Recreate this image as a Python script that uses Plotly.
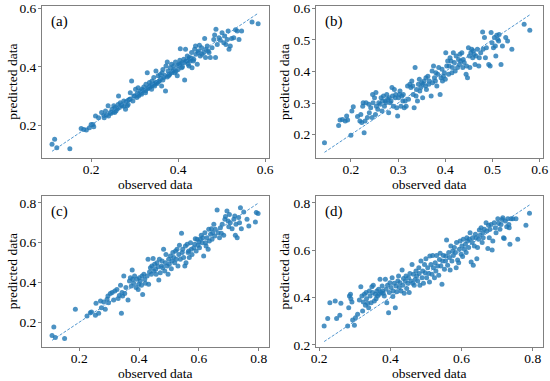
import plotly.graph_objects as go

# ---- data: (observed, predicted) ----
pts_a = [(0.110,0.134),(0.116,0.151),(0.121,0.122),(0.151,0.119),(0.177,0.188),(0.183,0.185),(0.189,0.183),
(0.196,0.191),(0.204,0.202),(0.206,0.194),(0.200,0.202),(0.210,0.231),(0.217,0.225),(0.224,0.243),(0.229,0.233),
(0.233,0.248),(0.239,0.266),(0.240,0.231),(0.244,0.243),(0.248,0.254),(0.252,0.266),(0.254,0.243),(0.257,0.248),
(0.262,0.271),(0.263,0.300),(0.267,0.277),(0.271,0.266),(0.275,0.283),(0.279,0.254),(0.283,0.266),(0.285,0.271),
(0.288,0.288),(0.290,0.311),(0.293,0.351),(0.296,0.283),(0.298,0.300),(0.302,0.323),(0.306,0.309),(0.308,0.328),
(0.309,0.300),(0.313,0.317),(0.316,0.306),(0.317,0.323),(0.321,0.331),(0.325,0.311),(0.326,0.340),(0.329,0.380),
(0.331,0.328),(0.334,0.346),(0.336,0.336),(0.339,0.323),(0.340,0.351),(0.344,0.363),(0.346,0.334),(0.348,0.346),
(0.349,0.386),(0.352,0.343),(0.354,0.369),(0.357,0.351),(0.359,0.374),(0.362,0.334),(0.363,0.380),(0.365,0.391),
(0.367,0.363),(0.371,0.317),(0.372,0.403),(0.375,0.417),(0.377,0.386),(0.378,0.369),(0.380,0.374),(0.382,0.397),
(0.385,0.409),(0.388,0.386),(0.390,0.403),(0.392,0.380),(0.394,0.417),(0.398,0.369),(0.400,0.391),(0.402,0.409),
(0.404,0.423),(0.405,0.462),(0.408,0.397),(0.409,0.414),(0.413,0.426),(0.415,0.355),(0.417,0.460),(0.418,0.420),
(0.421,0.437),(0.423,0.409),(0.425,0.403),(0.426,0.432),(0.428,0.420),(0.431,0.449),(0.432,0.397),(0.436,0.426),
(0.438,0.460),(0.440,0.472),(0.441,0.443),(0.444,0.409),(0.446,0.449),(0.447,0.454),(0.449,0.474),(0.451,0.437),
(0.454,0.466),(0.455,0.443),(0.459,0.449),(0.461,0.497),(0.463,0.432),(0.464,0.460),(0.467,0.472),(0.469,0.454),
(0.471,0.449),(0.474,0.432),(0.478,0.466),(0.482,0.494),(0.484,0.509),(0.486,0.432),(0.487,0.529),(0.490,0.477),
(0.494,0.500),(0.497,0.491),(0.501,0.517),(0.505,0.483),(0.507,0.506),(0.510,0.477),(0.513,0.494),(0.515,0.523),
(0.517,0.460),(0.520,0.472),(0.523,0.497),(0.528,0.500),(0.532,0.527),(0.536,0.523),(0.540,0.494),(0.546,0.523),
(0.570,0.554),(0.584,0.548),
(0.300,0.300),(0.305,0.295),(0.310,0.305),(0.315,0.310),(0.320,0.320),(0.325,0.318),(0.330,0.325),(0.335,0.330),
(0.340,0.335),(0.345,0.340),(0.350,0.345),(0.355,0.350),(0.360,0.360),(0.365,0.355),(0.370,0.370),(0.375,0.365),
(0.380,0.375),(0.385,0.380),(0.390,0.390),(0.395,0.385),(0.400,0.405),(0.405,0.410),(0.410,0.400),(0.415,0.415),
(0.420,0.420),(0.425,0.425),(0.430,0.430),(0.435,0.420),(0.260,0.255),(0.265,0.260),(0.270,0.270),(0.275,0.265),
(0.280,0.280),(0.285,0.285),(0.290,0.290),(0.245,0.240),(0.250,0.245),(0.235,0.235),(0.230,0.225),(0.255,0.260)]

pts_b = [(0.144,0.174),(0.174,0.229),(0.177,0.246),(0.182,0.248),(0.188,0.243),(0.191,0.259),(0.193,0.246),
(0.200,0.198),(0.202,0.275),(0.205,0.288),(0.214,0.257),(0.219,0.243),(0.221,0.264),(0.223,0.238),(0.225,0.290),
(0.226,0.301),(0.228,0.206),(0.230,0.243),(0.232,0.301),(0.235,0.254),(0.238,0.296),(0.239,0.269),(0.242,0.285),
(0.245,0.254),(0.246,0.327),(0.247,0.301),(0.250,0.317),(0.252,0.264),(0.253,0.333),(0.254,0.290),(0.257,0.280),
(0.259,0.301),(0.262,0.296),(0.264,0.317),(0.266,0.275),(0.267,0.306),(0.269,0.322),(0.271,0.290),(0.273,0.306),
(0.274,0.301),(0.276,0.327),(0.278,0.312),(0.280,0.269),(0.281,0.317),(0.283,0.301),(0.285,0.306),(0.287,0.349),
(0.288,0.322),(0.290,0.290),(0.292,0.343),(0.294,0.317),(0.295,0.327),(0.297,0.285),(0.299,0.259),(0.301,0.317),
(0.303,0.327),(0.304,0.338),(0.306,0.290),(0.308,0.322),(0.310,0.306),(0.311,0.327),(0.313,0.285),(0.315,0.306),
(0.317,0.290),(0.320,0.354),(0.322,0.312),(0.325,0.359),(0.327,0.349),(0.329,0.370),(0.331,0.354),(0.332,0.327),
(0.334,0.285),(0.336,0.412),(0.338,0.322),(0.339,0.343),(0.341,0.306),(0.343,0.359),(0.345,0.375),(0.346,0.338),
(0.348,0.349),(0.350,0.364),(0.352,0.317),(0.353,0.359),(0.355,0.370),(0.358,0.354),(0.359,0.380),(0.360,0.343),
(0.363,0.385),(0.365,0.359),(0.366,0.370),(0.370,0.322),(0.372,0.401),(0.373,0.364),(0.375,0.417),(0.377,0.380),
(0.379,0.370),(0.380,0.396),(0.382,0.354),(0.384,0.391),(0.386,0.412),(0.389,0.327),(0.391,0.380),(0.393,0.407),
(0.394,0.370),(0.396,0.385),(0.398,0.396),(0.400,0.375),(0.401,0.459),(0.403,0.417),(0.405,0.433),(0.407,0.391),
(0.408,0.417),(0.410,0.443),(0.412,0.433),(0.414,0.396),(0.415,0.412),(0.417,0.459),(0.419,0.428),(0.421,0.401),
(0.423,0.449),(0.426,0.412),(0.428,0.438),(0.430,0.422),(0.431,0.454),(0.433,0.433),(0.435,0.459),(0.437,0.412),
(0.438,0.438),(0.440,0.428),(0.444,0.391),(0.445,0.417),(0.447,0.380),(0.449,0.475),(0.451,0.449),(0.452,0.412),
(0.454,0.459),(0.456,0.470),(0.458,0.443),(0.459,0.465),(0.461,0.454),(0.463,0.422),(0.465,0.449),(0.468,0.470),
(0.471,0.417),(0.472,0.443),(0.475,0.459),(0.479,0.525),(0.480,0.470),(0.483,0.507),(0.485,0.443),(0.487,0.475),
(0.492,0.422),(0.495,0.417),(0.497,0.523),(0.499,0.491),(0.502,0.475),(0.504,0.507),(0.506,0.480),(0.507,0.449),
(0.509,0.514),(0.511,0.502),(0.513,0.496),(0.514,0.517),(0.518,0.422),(0.521,0.480),(0.528,0.507),(0.532,0.496),
(0.541,0.470),(0.567,0.549),(0.579,0.530)]

pts_c = [(0.109,0.134),(0.115,0.176),(0.120,0.123),(0.151,0.118),(0.187,0.265),(0.226,0.231),(0.237,0.248),
(0.241,0.252),(0.254,0.235),(0.256,0.295),(0.265,0.245),(0.271,0.307),(0.274,0.273),(0.282,0.302),(0.287,0.265),
(0.293,0.315),(0.296,0.332),(0.298,0.298),(0.304,0.345),(0.310,0.349),(0.315,0.312),(0.319,0.357),(0.326,0.365),
(0.330,0.319),(0.334,0.335),(0.338,0.386),(0.341,0.245),(0.343,0.349),(0.345,0.332),(0.349,0.432),(0.352,0.345),
(0.356,0.374),(0.363,0.312),(0.368,0.407),(0.371,0.424),(0.374,0.382),(0.377,0.463),(0.379,0.416),(0.382,0.396),
(0.385,0.432),(0.390,0.374),(0.393,0.416),(0.397,0.365),(0.399,0.391),(0.401,0.424),(0.404,0.407),(0.408,0.386),
(0.410,0.432),(0.412,0.340),(0.416,0.441),(0.419,0.416),(0.421,0.396),(0.427,0.432),(0.430,0.516),(0.432,0.391),
(0.435,0.453),(0.438,0.474),(0.441,0.441),(0.443,0.483),(0.447,0.520),(0.449,0.458),(0.452,0.491),(0.455,0.466),
(0.457,0.441),(0.460,0.499),(0.464,0.479),(0.466,0.412),(0.468,0.516),(0.471,0.449),(0.475,0.483),(0.477,0.508),
(0.479,0.474),(0.482,0.567),(0.486,0.458),(0.488,0.499),(0.490,0.541),(0.494,0.483),(0.497,0.441),(0.499,0.516),
(0.501,0.491),(0.505,0.533),(0.508,0.469),(0.510,0.508),(0.513,0.550),(0.516,0.525),(0.519,0.499),(0.522,0.558),
(0.524,0.516),(0.527,0.567),(0.530,0.483),(0.533,0.541),(0.535,0.587),(0.538,0.516),(0.542,0.647),(0.544,0.550),
(0.546,0.567),(0.549,0.525),(0.553,0.483),(0.555,0.583),(0.557,0.499),(0.561,0.592),(0.564,0.550),(0.566,0.558),
(0.568,0.525),(0.572,0.600),(0.575,0.567),(0.577,0.541),(0.583,0.575),(0.586,0.592),(0.588,0.620),(0.591,0.558),
(0.594,0.617),(0.597,0.587),(0.600,0.603),(0.602,0.575),(0.605,0.617),(0.608,0.637),(0.611,0.600),(0.613,0.625),
(0.616,0.533),(0.620,0.650),(0.622,0.600),(0.624,0.583),(0.627,0.625),(0.631,0.567),(0.633,0.667),(0.635,0.608),
(0.639,0.642),(0.642,0.670),(0.644,0.617),(0.646,0.650),(0.650,0.692),(0.653,0.634),(0.655,0.667),(0.661,0.764),
(0.664,0.650),(0.669,0.625),(0.672,0.675),(0.675,0.647),(0.678,0.692),(0.683,0.637),(0.687,0.717),(0.689,0.731),
(0.694,0.759),(0.698,0.709),(0.700,0.680),(0.702,0.742),(0.705,0.700),(0.711,0.670),(0.717,0.717),(0.720,0.734),
(0.722,0.637),(0.724,0.692),(0.728,0.625),(0.733,0.726),(0.736,0.700),(0.739,0.776),(0.742,0.670),(0.750,0.754),
(0.761,0.717),(0.767,0.684),(0.789,0.704),(0.792,0.751),(0.798,0.747)]

pts_d = [(0.214,0.280),(0.224,0.311),(0.230,0.378),(0.245,0.385),(0.249,0.311),(0.258,0.325),(0.261,0.376),
(0.280,0.280),(0.283,0.357),(0.285,0.407),(0.288,0.414),(0.289,0.395),(0.292,0.381),(0.294,0.305),(0.299,0.283),
(0.302,0.315),(0.308,0.329),(0.313,0.390),(0.317,0.446),(0.320,0.407),(0.322,0.343),(0.324,0.381),(0.327,0.414),
(0.330,0.367),(0.332,0.421),(0.333,0.395),(0.336,0.376),(0.339,0.357),(0.341,0.428),(0.343,0.407),(0.346,0.378),
(0.348,0.446),(0.350,0.421),(0.352,0.452),(0.355,0.385),(0.358,0.414),(0.360,0.395),(0.362,0.428),(0.364,0.407),
(0.367,0.435),(0.369,0.414),(0.371,0.477),(0.374,0.421),(0.377,0.449),(0.378,0.428),(0.380,0.418),(0.383,0.407),
(0.386,0.477),(0.388,0.435),(0.390,0.378),(0.392,0.452),(0.395,0.336),(0.397,0.421),(0.399,0.463),(0.402,0.442),
(0.405,0.484),(0.407,0.404),(0.408,0.428),(0.411,0.460),(0.414,0.357),(0.416,0.449),(0.418,0.424),(0.421,0.470),
(0.423,0.491),(0.425,0.442),(0.427,0.463),(0.430,0.428),(0.433,0.516),(0.435,0.452),(0.437,0.480),(0.439,0.418),
(0.442,0.470),(0.444,0.491),(0.446,0.438),(0.449,0.460),(0.451,0.484),(0.453,0.421),(0.455,0.502),(0.458,0.470),
(0.461,0.540),(0.463,0.460),(0.465,0.498),(0.467,0.452),(0.470,0.477),(0.472,0.512),(0.474,0.491),(0.477,0.470),
(0.480,0.526),(0.481,0.502),(0.483,0.452),(0.486,0.554),(0.489,0.484),(0.491,0.512),(0.493,0.460),(0.496,0.540),
(0.498,0.505),(0.500,0.564),(0.502,0.484),(0.505,0.526),(0.508,0.502),(0.510,0.466),(0.511,0.576),(0.514,0.540),
(0.517,0.498),(0.519,0.578),(0.521,0.526),(0.524,0.484),(0.526,0.547),(0.528,0.512),(0.530,0.578),(0.533,0.533),
(0.536,0.494),(0.538,0.561),(0.540,0.587),(0.542,0.533),(0.545,0.456),(0.547,0.554),(0.549,0.578),(0.552,0.519),
(0.555,0.554),(0.556,0.576),(0.558,0.643),(0.561,0.536),(0.564,0.590),(0.566,0.569),(0.568,0.516),(0.570,0.618),
(0.573,0.554),(0.575,0.597),(0.577,0.578),(0.580,0.611),(0.583,0.590),(0.585,0.526),(0.586,0.632),(0.589,0.559),
(0.592,0.547),(0.594,0.604),(0.596,0.639),(0.599,0.583),(0.601,0.618),(0.603,0.573),(0.605,0.646),(0.608,0.604),
(0.611,0.625),(0.613,0.590),(0.615,0.653),(0.617,0.639),(0.620,0.611),(0.622,0.646),(0.624,0.674),(0.627,0.550),
(0.630,0.632),(0.631,0.653),(0.633,0.536),(0.636,0.618),(0.639,0.667),(0.641,0.653),(0.643,0.564),(0.645,0.611),
(0.648,0.646),(0.650,0.685),(0.652,0.663),(0.655,0.695),(0.658,0.632),(0.660,0.674),(0.661,0.653),(0.664,0.688),
(0.669,0.716),(0.671,0.681),(0.674,0.607),(0.676,0.705),(0.678,0.653),(0.680,0.688),(0.683,0.709),(0.686,0.601),
(0.688,0.639),(0.692,0.716),(0.695,0.695),(0.697,0.674),(0.702,0.733),(0.704,0.714),(0.708,0.688),(0.711,0.709),
(0.714,0.730),(0.716,0.737),(0.718,0.653),(0.720,0.649),(0.723,0.723),(0.727,0.699),(0.730,0.733),(0.733,0.709),
(0.734,0.695),(0.736,0.625),(0.739,0.733),(0.744,0.733),(0.753,0.733),(0.758,0.646),(0.781,0.705),(0.791,0.756)]

panel_labels = ["(a)", "(b)", "(c)", "(d)"]
axis_ranges = [[0.087, 0.609], [0.126, 0.607], [0.0755, 0.8345], [0.191, 0.829]]
x_dticks = [0.2, 0.1, 0.2, 0.2]
y_dticks = [0.2, 0.1, 0.2, 0.2]
x_title = "observed data"
y_title = "predicted data"

x_domains = [[0.0764, 0.4891], [0.5745, 0.9873], [0.0764, 0.4891], [0.5745, 0.9873]]
y_domains = [[0.5853, 0.9843], [0.5853, 0.9843], [0.0892, 0.4856], [0.0892, 0.4856]]
x_title_pos = [0.517, 0.517, 0.0197, 0.0197]   # paper y of x-title centres
y_title_pos = [0.023, 0.518, 0.023, 0.518]     # paper x of y-title centres

DOT = "rgba(31,119,180,0.8)"
FONT = "Liberation Serif, Times New Roman, serif"
GRAY = "#808080"
FS = 13.5

fig = go.Figure()
layout = {}
for i, pts in enumerate([pts_a, pts_b, pts_c, pts_d]):
    obs = [p[0] for p in pts]
    pred = [p[1] for p in pts]
    xa = "x" if i == 0 else f"x{i+1}"
    ya = "y" if i == 0 else f"y{i+1}"
    lo, hi = min(obs), max(obs)
    fig.add_trace(go.Scatter(x=obs, y=pred, mode="markers", xaxis=xa, yaxis=ya,
                             marker=dict(size=5, color=DOT, line=dict(width=0)),
                             showlegend=False, hoverinfo="skip"))
    fig.add_trace(go.Scatter(x=[lo, hi], y=[lo, hi], mode="lines", xaxis=xa, yaxis=ya,
                             line=dict(color="#3d8ac8", width=0.9, dash="3px,1.6px"),
                             showlegend=False, hoverinfo="skip"))
    common = dict(showline=True, mirror=True, linecolor=GRAY, linewidth=1,
                  showgrid=False, zeroline=False, ticks="outside", ticklen=3,
                  tickcolor=GRAY, tickwidth=1, automargin=False,
                  tickfont=dict(family=FONT, size=FS, color="black"))
    layout["xaxis" if i == 0 else f"xaxis{i+1}"] = dict(
        common, domain=x_domains[i], range=axis_ranges[i], anchor=ya,
        tick0=0, dtick=x_dticks[i], ticklabelstandoff=-4)
    layout["yaxis" if i == 0 else f"yaxis{i+1}"] = dict(
        common, domain=y_domains[i], range=axis_ranges[i], anchor=xa,
        tick0=0, dtick=y_dticks[i], ticklabelstandoff=-1)
    fig.add_annotation(text=panel_labels[i], xref=f"{xa} domain", yref=f"{ya} domain",
                       x=0.03, y=0.9, xanchor="left", yanchor="middle", showarrow=False,
                       font=dict(family=FONT, size=15, color="black"))
    fig.add_annotation(text=x_title, xref="paper", yref="paper",
                       x=sum(x_domains[i]) / 2, y=x_title_pos[i], xanchor="center", yanchor="middle",
                       showarrow=False, font=dict(family=FONT, size=FS, color="black"))
    fig.add_annotation(text=y_title, xref="paper", yref="paper", textangle=-90,
                       x=y_title_pos[i], y=sum(y_domains[i]) / 2, xanchor="center", yanchor="middle",
                       showarrow=False, font=dict(family=FONT, size=FS, color="black"))

fig.update_layout(**layout)
fig.update_layout(width=550, height=381, autosize=False,
                  margin=dict(l=0, r=0, t=0, b=0, autoexpand=False),
                  paper_bgcolor="white", plot_bgcolor="white")
fig.write_html("out.html", config={"displayModeBar": False},
               post_script="document.body.style.margin='0';document.body.style.padding='0';")
